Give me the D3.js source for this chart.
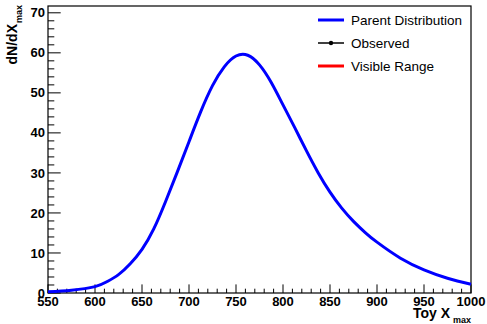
<!DOCTYPE html>
<html><head><meta charset="utf-8">
<script src="https://cdn.jsdelivr.net/npm/d3@7"></script>
<style>body{margin:0;background:#fff}svg{display:block}text{font-family:"Liberation Sans",Arial,sans-serif}</style>
</head><body>
<script>
const xValues = [550,575,600,612.5,625,637.5,650,662.5,675,687.5,700,712.5,725,737.5,750,762.5,775,787.5,800,812.5,825,837.5,850,862.5,875,887.5,900,925,950,975,1000];
const parentValues = [0.3,0.7,1.6,2.8,4.6,7.3,10.9,16.0,22.8,30.2,37.8,45.3,51.8,56.5,59.2,59.4,57.0,52.6,47.0,41.3,35.5,30.0,25.2,21.2,17.9,15.1,12.7,8.7,5.8,3.7,2.2];
const xTicks = [550,600,650,700,750,800,850,900,950,1000];
const yTicks = [0,10,20,30,40,50,60,70];
const legendLabels = ["Parent Distribution","Observed","Visible Range"];
const legendColors = ["#0000ff","#000000","#ff0000"];

const W=487,H=324, L=48, R=471, T=6, B=293;
const svg=d3.select("body").append("svg").attr("width",W).attr("height",H);
const x=d3.scaleLinear().domain([550,1000]).range([L,R]);
const y=d3.scaleLinear().domain([0,71.7]).range([B,T]);

// frame
svg.append("rect").attr("x",L).attr("y",T).attr("width",R-L).attr("height",B-T)
  .attr("fill","none").attr("stroke","#000").attr("stroke-width",1.2);

// x ticks
const xMinor=d3.range(550,1001,10);
svg.append("g").selectAll("line").data(xMinor).join("line")
  .attr("x1",d=>x(d)).attr("x2",d=>x(d)).attr("y1",B).attr("y2",d=>B-(d%50===0?8.6:4.3))
  .attr("stroke","#000").attr("stroke-width",1);
svg.append("g").selectAll("text").data(xTicks).join("text")
  .attr("x",d=>x(d)).attr("y",306).attr("text-anchor","middle")
  .attr("font-size",13).attr("font-weight","bold").text(d=>d);

// y ticks
const yMinor=d3.range(0,71,2);
svg.append("g").selectAll("line").data(yMinor).join("line")
  .attr("x1",L).attr("x2",d=>L+(d%10===0?12.7:6.3)).attr("y1",d=>y(d)).attr("y2",d=>y(d))
  .attr("stroke","#000").attr("stroke-width",1);
svg.append("g").selectAll("text").data(yTicks).join("text")
  .attr("x",45).attr("y",d=>y(d)+4.6).attr("text-anchor","end")
  .attr("font-size",13).attr("font-weight","bold").text(d=>d);

// axis titles
const xt=svg.append("text").attr("x",R).attr("y",318).attr("text-anchor","end")
  .attr("font-size",14).attr("font-weight","bold");
xt.append("tspan").text("Toy X");
xt.append("tspan").attr("dy",4.5).attr("dx",3).attr("font-size",9).text("max");

const yt=svg.append("text").attr("transform","translate(17,5) rotate(-90)").attr("text-anchor","end")
  .attr("font-size",14).attr("font-weight","bold");
yt.append("tspan").text("dN/dX");
yt.append("tspan").attr("dy",4.5).attr("dx",1).attr("font-size",9).text("max");

// curve
const pts=xValues.map((v,i)=>[v,parentValues[i]]);
svg.append("path").datum(pts)
  .attr("d",d3.line().x(d=>x(d[0])).y(d=>y(d[1])).curve(d3.curveNatural))
  .attr("fill","none").attr("stroke","#0000ff").attr("stroke-width",3);

// legend
const lg=svg.append("g");
legendLabels.forEach((lab,i)=>{
  const cy=20+i*23;
  lg.append("line").attr("x1",318).attr("x2",344).attr("y1",cy).attr("y2",cy)
    .attr("stroke",legendColors[i]).attr("stroke-width",i===1?1.5:3);
  if(i===1) lg.append("circle").attr("cx",331).attr("cy",cy).attr("r",2.2).attr("fill","#000");
  lg.append("text").attr("x",351).attr("y",cy+5).attr("font-size",13.5).text(lab);
});
</script>
</body></html>
